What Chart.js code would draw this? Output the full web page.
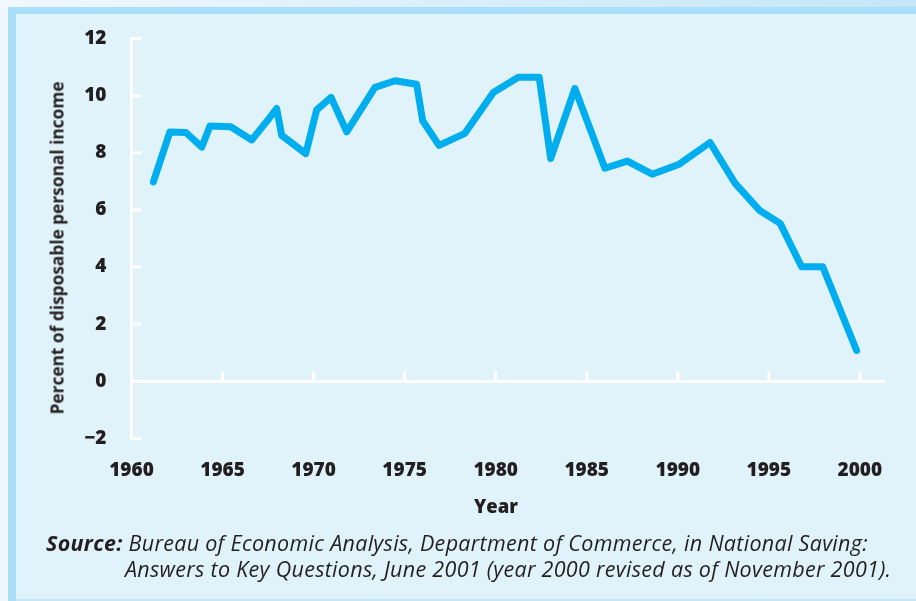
<!DOCTYPE html>
<html>
<head>
<meta charset="utf-8">
<script src="https://cdn.jsdelivr.net/npm/chart.js@4/dist/chart.umd.min.js"></script>
<style>
  html, body { margin: 0; padding: 0; }
  body { width: 916px; height: 601px; position: relative; overflow: hidden; background: #f1f8fd; }
  #strip { position: absolute; left: 0; top: 0; width: 916px; height: 7px; background: linear-gradient(to right, #f1f8fe, #c3e6f8); }
  #frame { position: absolute; left: 8px; top: 7px; right: 0; bottom: 0; background: #a9dff8; }
  #panel { position: absolute; left: 16px; top: 14px; right: 0; bottom: 2px; background: #e0f3fb; }
  #bottomline { position: absolute; left: 16px; right: 0; bottom: 0; height: 2px; background: #c4e7f8; }
  canvas { position: absolute; left: 0; top: 0; }
  #ytitle { position: absolute; left: 57px; top: 248px; transform: translate(-50%, -50%) rotate(-90deg);
            white-space: nowrap; font: bold 17.3px "Open Sans", sans-serif; color: #231f20; }
  #xtitle { position: absolute; left: 496px; top: 505px; transform: translate(-50%, -50%);
            font: 800 18.5px "Open Sans", sans-serif; color: #231f20; }
  #source { position: absolute; left: 125px; top: 530px; text-indent: -79px; white-space: nowrap;
            font: italic 21.5px "Open Sans", sans-serif; letter-spacing: 0.3px; line-height: 26px; color: #231f20; }
  #source b { font-weight: bold; }
</style>
</head>
<body>
<div id="strip"></div>
<div id="frame"></div>
<div id="panel"></div>
<div id="bottomline"></div>
<canvas id="chartLine" width="916" height="601"></canvas>
<div id="ytitle">Percent of disposable personal income</div>
<div id="xtitle">Year</div>
<div id="source"><b>Source:</b> Bureau of Economic Analysis, Department of Commerce, in National Saving:<br>Answers to Key Questions, June 2001 (year 2000 revised as of November 2001).</div>

<script>
// personal saving rate
const years = [1961.2, 1962.11, 1962.99, 1963.86, 1964.31, 1965.45, 1966.6, 1967.42, 1967.97, 1968.25,
  1969.57, 1970.17, 1970.96, 1971.82, 1973.37, 1974.47, 1975.66, 1975.99, 1976.89, 1978.31,
  1979.87, 1981.24, 1982.39, 1983.02, 1984.35, 1986.0, 1987.23, 1988.6, 1990.08, 1991.77,
  1993.15, 1994.48, 1995.62, 1996.8, 1997.96, 1999.82];
const savingRate = [6.98, 8.73, 8.71, 8.2, 8.94, 8.91, 8.45, 9.09, 9.55, 8.61,
  7.97, 9.5, 9.94, 8.73, 10.29, 10.52, 10.4, 9.12, 8.26, 8.68,
  10.11, 10.64, 10.64, 7.8, 10.25, 7.46, 7.71, 7.25, 7.6, 8.36,
  6.93, 5.99, 5.53, 4.01, 4.01, 1.08];
const yearTicks = [1960, 1965, 1970, 1975, 1980, 1985, 1990, 1995, 2000];
const percentTicks = [-2, 0, 2, 4, 6, 8, 10, 12];

const tickFont = { family: '"Open Sans"', size: 19, weight: '800' };

// little white tick marks pointing into the plot
const tickMarks = {
  id: 'tickMarks',
  beforeDatasetsDraw(chart) {
    const { ctx, scales: { x, y } } = chart;
    const y0 = y.getPixelForValue(0);
    ctx.save();
    ctx.strokeStyle = '#ffffff';
    ctx.lineWidth = 3;
    ctx.beginPath();
    y.ticks.forEach(t => {
      const py = y.getPixelForValue(t.value);
      ctx.moveTo(x.left, py);
      ctx.lineTo(x.left + 10, py);
    });
    x.ticks.forEach(t => {
      if (t.value === x.min) return;
      const px = x.getPixelForValue(t.value);
      ctx.moveTo(px, y0);
      ctx.lineTo(px, y0 - 10);
    });
    ctx.stroke();
    ctx.restore();
  }
};

new Chart(document.getElementById('chartLine'), {
  type: 'line',
  data: {
    datasets: [{
      data: years.map((yr, i) => ({ x: yr, y: savingRate[i] })),
      borderColor: '#00aeef',
      borderWidth: 7,
      borderJoinStyle: 'round',
      borderCapStyle: 'round',
      pointRadius: 0,
      tension: 0,
      fill: false
    }]
  },
  options: {
    responsive: false,
    animation: false,
    devicePixelRatio: 1,
    layout: { padding: { top: 38.5, right: 31, bottom: 0, left: 0 } },
    plugins: { legend: { display: false }, tooltip: { enabled: false } },
    scales: {
      x: {
        type: 'linear',
        min: 1960,
        max: 2001.38,
        afterBuildTicks: s => { s.ticks = yearTicks.map(v => ({ value: v })); },
        afterFit: s => { s.height = 162.5; },
        grid: { display: false },
        border: { display: false },
        ticks: { font: tickFont, color: '#231f20', padding: 13, maxRotation: 0, callback: v => String(v) }
      },
      y: {
        min: -2,
        max: 12,
        afterBuildTicks: s => { s.ticks = percentTicks.map(v => ({ value: v })); },
        afterFit: s => { s.width = 131.5; },
        grid: {
          drawTicks: false,
          lineWidth: 3,
          color: c => (c.tick && c.tick.value === 0) ? '#ffffff' : 'rgba(0,0,0,0)'
        },
        border: { display: true, color: '#ffffff', width: 3 },
        ticks: { font: tickFont, color: '#231f20', padding: 25, callback: v => v < 0 ? '\u2212' + Math.abs(v) : String(v) }
      }
    }
  },
  plugins: [tickMarks]
});
</script>
</body>
</html>
